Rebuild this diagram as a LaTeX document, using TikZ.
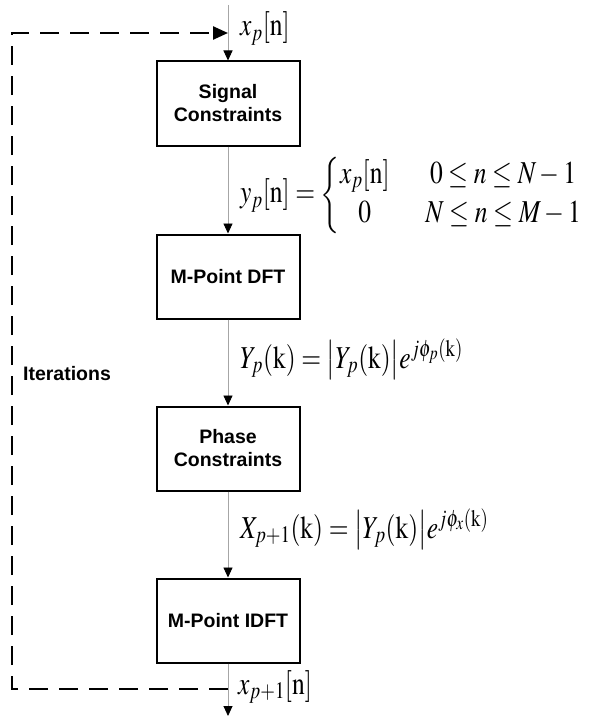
\documentclass[tikz,border=0pt]{standalone}
\usepackage{amsmath}
\usepackage{mathptmx}
\usepackage[no-math]{fontspec}
\newfontfamily\arialfont{Liberation Sans}
\usetikzlibrary{positioning,arrows.meta}
\tikzset{
  box/.style ={draw, line width=2pt, minimum width=143pt, minimum height=84pt,
               align=center, font=\arialfont\bfseries\fontsize{19.5}{23}\selectfont},
  fl/.style  ={draw=black!35, line width=0.9pt,
               -{Triangle[length=10pt,width=9pt,color=black]}},
  fb/.style  ={line width=2.4pt, dash pattern=on 19pt off 11pt,
               -{Triangle[length=15pt,width=13pt]}},
  eq/.style  ={anchor=base west, inner sep=0pt, font=\fontsize{25.5}{30}\selectfont},
  lbl/.style ={font=\arialfont\bfseries\fontsize{19.5}{23}\selectfont},
}
% equation text is set a little taller than wide
\newcommand{\tallm}[1]{\scalebox{1}[1.25]{$#1$}}

\begin{document}
\begin{tikzpicture}[x=1pt,y=-1pt]
  \useasboundingbox (0,0) rectangle (592,717);

  % processing chain
  \node[box] (sig) at (228,103.5) {Signal\\ Constraints};
  \node[box, below=87pt of sig] (dft)  {M-Point DFT};
  \node[box, below=86pt of dft] (phs)  {Phase\\ Constraints};
  \node[box, below=86pt of phs] (idft) {M-Point IDFT};

  \coordinate (in)   at (228,5);
  \coordinate (out)  at (228,716);
  \coordinate (back) at (228,689);
  \coordinate (turn) at (12,689);
  \coordinate (ret)  at (228,33);

  % signals between the blocks
  \node[eq] (xin) at (240,36) {\tallm{x_p[\mathrm{n}]}};
  \node[eq, anchor=west] (ypn) at (240,195)
        {\tallm{y_p[\mathrm{n}] = \left\{\renewcommand\arraystretch{1.05}
          \begin{array}{@{}c@{\hspace{1.4em}}c@{}}
            x_p[\mathrm{n}] & 0\le n\le N-1\\
            0 & N\le n\le M-1
          \end{array}\right.}};
  \node[eq] (ypk) at (240,368)
        {\tallm{Y_p(\mathrm{k}) = \bigl|Y_p(\mathrm{k})\bigr| e^{j\phi_p(\mathrm{k})}}};
  \node[eq] (xpk) at (240,538)
        {\tallm{X_{p+1}(\mathrm{k}) = \bigl|Y_p(\mathrm{k})\bigr| e^{j\phi_x(\mathrm{k})}}};
  \node[eq] (xout) at (238,694) {\tallm{x_{p+1}[\mathrm{n}]}};

  % arrows
  \draw[fl](in)--(sig); \draw[fl](sig)--(dft);
  \draw[fl](dft)--(phs); \draw[fl](phs)--(idft);
  \draw[fl](idft)--(out);

  % feedback loop
  \draw[fb](back) -- (turn) |- (ret);
  \node[lbl] (iter) at (67,374) {Iterations};
\end{tikzpicture}
\end{document}
